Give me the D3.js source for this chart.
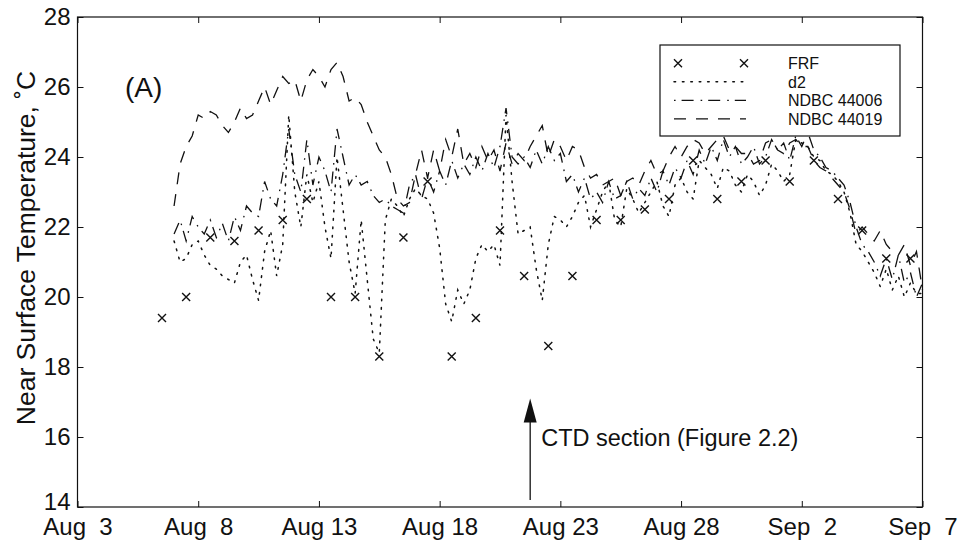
<!DOCTYPE html>
<html>
<head>
<meta charset="utf-8">
<script src="https://cdn.jsdelivr.net/npm/d3@7"></script>
<style>
  html, body { margin: 0; padding: 0; background: #fff; }
  svg { display: block; }
  text { font-family: "Liberation Sans", Arial, Helvetica, sans-serif; fill: #111; }
</style>
</head>
<body>
<svg id="chart" width="966" height="548"></svg>
<script>
// ---- data (day numbers are days after Aug 3, 00:00) ----
const xTickDays = [0, 5, 10, 15, 20, 25, 30, 35];
const xTickLabels = ["Aug  3", "Aug  8", "Aug 13", "Aug 18", "Aug 23", "Aug 28", "Sep  2", "Sep  7"];
const yTicks = [14, 16, 18, 20, 22, 24, 26, 28];

// FRF daily observations (one per day, starting Aug 6.5)
const frfStartDay = 3.5;
const frfValues = [19.4, 20.0, 21.7, 21.6, 21.9, 22.2, 22.8, 20.0, 20.0, 18.3, 21.7, 23.3, 18.3, 19.4,
  21.9, 20.6, 18.6, 20.6, 22.2, 22.2, 22.5, 22.8, 23.9, 22.8, 23.3, 23.9, 23.3, 23.9, 22.8, 21.9, 21.1, 21.1];

// continuous records, sampled every 6 hours starting Aug 7
const seriesStartDay = 4;
const seriesStepDays = 0.25;
const d2Values = [
  21.6, 21.0, 21.1, 21.5, 21.6, 21.2, 20.9, 20.8, 20.6, 20.5, 20.4, 21.0,
  21.2, 20.5, 19.9, 21.3, 21.9, 20.6, 21.5, 25.2, 23.0, 22.0, 23.5, 22.7,
  23.3, 22.0, 21.1, 24.0, 22.5, 21.0, 20.1, 22.2, 20.5, 18.8, 18.4, 22.2,
  22.8, 22.6, 22.3, 22.8, 23.1, 22.9, 22.8, 22.4, 21.4, 19.8, 19.3, 20.2,
  19.8, 20.2, 21.1, 21.5, 21.3, 21.5, 20.9, 25.2, 23.3, 21.8, 21.9, 22.0,
  20.8, 19.9, 21.5, 22.3, 22.2, 22.0, 22.3, 22.7, 22.9, 22.0, 22.5, 23.0,
  23.3, 22.2, 22.0, 23.1, 22.8, 22.4, 22.7, 23.0, 23.3, 22.6, 22.3, 23.2,
  23.4, 23.0, 22.8, 23.9, 23.7, 23.5, 23.1, 23.7, 23.6, 23.2, 23.0, 23.5,
  23.3, 22.9, 23.2, 23.8, 23.6, 23.3, 23.5, 24.5, 24.4, 24.3, 24.0, 23.9,
  23.6, 23.5, 23.3, 23.0, 22.4, 21.5, 21.3, 21.0, 20.7, 20.3, 20.8, 20.2,
  20.6, 20.0, 20.4, 20.1, 20.1];
const ndbc44006Values = [
  21.8, 22.2, 21.6, 22.3, 22.0, 21.8, 22.2, 21.7, 22.1, 21.6, 22.3, 21.9,
  22.6, 22.4, 22.3, 23.3, 22.8, 22.6, 23.5, 24.8, 23.5, 23.0, 24.5, 23.2,
  24.0, 23.6, 23.0, 24.8, 24.0, 23.2, 23.5, 23.2, 23.3, 22.9, 22.7, 22.8,
  22.6, 22.5, 22.4, 23.2, 23.5, 22.8, 23.4, 23.0, 23.6, 23.2, 23.9, 23.4,
  23.8, 23.5, 24.0, 23.6, 24.1, 23.7, 24.3, 25.4, 24.0, 23.8, 24.0, 23.7,
  24.2, 23.8, 24.3, 23.9, 24.1, 23.3, 23.5, 23.0, 23.4, 22.8, 23.0, 22.7,
  23.3, 22.8, 22.9, 23.3, 22.8, 23.1, 22.9, 23.4, 23.0, 23.6, 23.2, 23.7,
  23.4, 23.9, 23.5, 24.2, 23.8, 24.3, 23.9, 24.5, 24.0, 24.3, 23.8, 24.0,
  24.3, 23.8, 24.0, 24.5, 24.2, 24.4, 23.9, 24.6, 24.3, 24.7, 24.2, 24.0,
  23.7, 23.6, 23.4, 23.2, 22.7, 22.0, 21.5, 21.3, 21.0, 20.6, 21.1, 20.5,
  21.2, 20.4, 20.7, 20.0, 20.4];
const ndbc44019Values = [
  22.6, 23.8, 24.3, 24.6, 25.2, 25.1, 25.3, 25.2, 24.9, 24.7, 25.0, 25.4,
  25.1, 25.2, 25.6, 26.0, 25.5, 25.9, 26.3, 26.1, 26.2, 25.6, 26.2, 26.5,
  26.3, 26.0, 26.5, 26.7, 26.3, 25.6, 25.7, 25.5, 25.0, 24.6, 24.2, 24.0,
  23.5, 22.8, 22.6, 22.7, 23.5, 24.2, 23.4, 24.2, 23.6, 24.5, 24.0, 24.8,
  23.8, 24.1, 23.7, 24.3, 23.9, 24.2, 23.6, 24.4, 23.8, 24.1, 23.9, 24.3,
  24.6, 24.9, 24.0, 24.5, 24.3, 23.9, 24.3, 24.2, 23.7, 23.4, 23.5, 23.2,
  23.3, 23.4, 22.9, 23.3, 23.4, 23.2, 23.6, 23.9, 23.5, 23.6, 24.0, 24.3,
  24.0, 24.3, 24.5, 24.4, 24.1, 24.3, 24.5, 24.6, 24.2, 24.3, 24.1, 24.1,
  23.8, 23.9, 24.4, 24.5, 24.2, 24.1, 24.4, 24.5, 24.3, 24.3, 23.9, 23.7,
  23.6, 23.4, 23.2, 23.0, 22.5, 21.8, 22.0, 21.8, 21.6, 21.9, 21.5, 21.3,
  21.2, 21.5, 20.9, 21.3, 20.2];

const legendLabels = ["FRF", "d2", "NDBC 44006", "NDBC 44019"];
const panelLabel = "(A)";
const yAxisLabel = "Near Surface Temperature, \u02DAC";
const ctdLabel = "CTD section (Figure 2.2)";
const ctdArrow = { day: 18.75, fromTemp: 14.2, toTemp: 17.1 };

// ---- drawing ----
const svg = d3.select("#chart");
const W = 966, H = 548;
svg.append("rect").attr("width", W).attr("height", H).attr("fill", "#fff");

const pL = 77.5, pR = 922.5, pT = 17, pB = 507;
const x = d3.scaleLinear().domain([0, 35]).range([pL, pR]);
const y = d3.scaleLinear().domain([14, 28]).range([pB, pT]);

const ink = "#111";
const fontTick = 24;

// axes
const gx = svg.append("g").attr("transform", `translate(0,${pB})`)
  .call(d3.axisBottom(x).tickValues(xTickDays).tickSize(-6).tickPadding(11)
    .tickFormat((d, i) => xTickLabels[i]));
const gxTop = svg.append("g").attr("transform", `translate(0,${pT})`)
  .call(d3.axisTop(x).tickValues(xTickDays).tickSize(-6).tickFormat(""));
const gy = svg.append("g").attr("transform", `translate(${pL},0)`)
  .call(d3.axisLeft(y).tickValues(yTicks).tickSize(-6).tickPadding(7).tickFormat(d3.format("d")));
const gyR = svg.append("g").attr("transform", `translate(${pR},0)`)
  .call(d3.axisRight(y).tickValues(yTicks).tickSize(-6).tickFormat(""));

[gx, gxTop, gy, gyR].forEach(g => {
  g.select(".domain").remove();
  g.selectAll(".tick line").attr("stroke", ink).attr("stroke-width", 1);
  g.selectAll(".tick text").attr("fill", ink).style("font-size", fontTick + "px")
    .style("font-family", '"Liberation Sans", Arial, sans-serif')
    .style("white-space", "pre");
});
// lowest y label sits a little above the corner, as in the original
gy.selectAll(".tick text").filter(d => d === 14).attr("dy", "0.1em");

svg.append("rect").attr("x", pL).attr("y", pT)
  .attr("width", pR - pL).attr("height", pB - pT)
  .attr("fill", "none").attr("stroke", ink).attr("stroke-width", 1.2);

// y label
svg.append("text")
  .attr("transform", `translate(35,248) rotate(-90)`)
  .attr("text-anchor", "middle")
  .style("font-size", "26.5px")
  .text(yAxisLabel);

// series
const toPoints = vals => vals.map((v, i) => ({ d: seriesStartDay + i * seriesStepDays, v }));
const line = d3.line().x(p => x(p.d)).y(p => y(p.v));

const styles = {
  d2: { dash: "1.6,6.8", cap: "round", width: 1.5 },
  n06: { dash: "12,7,1.6,6", width: 1.3 },
  n19: { dash: "12,10", width: 1.3 }
};

const plot = svg.append("g");
plot.append("path").datum(toPoints(d2Values)).attr("d", line)
  .attr("fill", "none").attr("stroke", ink).attr("stroke-width", styles.d2.width)
  .attr("stroke-dasharray", styles.d2.dash).attr("stroke-linecap", styles.d2.cap);
plot.append("path").datum(toPoints(ndbc44006Values)).attr("d", line)
  .attr("fill", "none").attr("stroke", ink).attr("stroke-width", styles.n06.width)
  .attr("stroke-dasharray", styles.n06.dash);
plot.append("path").datum(toPoints(ndbc44019Values)).attr("d", line)
  .attr("fill", "none").attr("stroke", ink).attr("stroke-width", styles.n19.width)
  .attr("stroke-dasharray", styles.n19.dash);

function cross(g, cx, cy, r) {
  g.append("path")
    .attr("d", `M${cx - r},${cy - r}L${cx + r},${cy + r}M${cx - r},${cy + r}L${cx + r},${cy - r}`)
    .attr("stroke", ink).attr("stroke-width", 1.4).attr("fill", "none");
}
const frfG = plot.append("g");
frfValues.forEach((v, i) => cross(frfG, x(frfStartDay + i), y(v), 4));

// CTD annotation
const ax = x(ctdArrow.day);
const tipY = y(ctdArrow.toTemp);
svg.append("line").attr("x1", ax).attr("x2", ax)
  .attr("y1", y(ctdArrow.fromTemp)).attr("y2", tipY + 18)
  .attr("stroke", ink).attr("stroke-width", 1.3);
svg.append("path")
  .attr("d", `M${ax},${tipY}L${ax - 6.5},${tipY + 24}L${ax + 6.5},${tipY + 24}Z`)
  .attr("fill", ink);
svg.append("text").attr("x", ax + 11).attr("y", tipY + 47)
  .style("font-size", "23.5px").text(ctdLabel);

// panel label
svg.append("text").attr("x", 125).attr("y", 97).style("font-size", "28px").text(panelLabel);

// legend
const lg = svg.append("g");
const lgX = 660, lgY = 45, lgW = 240, lgH = 91;
lg.append("rect").attr("x", lgX).attr("y", lgY).attr("width", lgW).attr("height", lgH)
  .attr("fill", "#fff").attr("stroke", ink).attr("stroke-width", 1.2);
const rowY = [63.3, 81.8, 100.3, 118.8];
const sx0 = 674, sx1 = 746, tx = 788;
legendLabels.forEach((lab, i) => {
  lg.append("text").attr("x", tx).attr("y", rowY[i]).attr("dy", "0.36em")
    .style("font-size", "16px").text(lab);
});
cross(lg, 678, rowY[0], 4);
cross(lg, 744, rowY[0], 4);
lg.append("line").attr("x1", sx0).attr("x2", sx1).attr("y1", rowY[1]).attr("y2", rowY[1])
  .attr("stroke", ink).attr("stroke-width", styles.d2.width)
  .attr("stroke-dasharray", styles.d2.dash).attr("stroke-linecap", "round");
lg.append("line").attr("x1", sx0).attr("x2", sx1).attr("y1", rowY[2]).attr("y2", rowY[2])
  .attr("stroke", ink).attr("stroke-width", styles.n06.width)
  .attr("stroke-dasharray", "1.6,6,12,7");
lg.append("line").attr("x1", sx0).attr("x2", sx1).attr("y1", rowY[3]).attr("y2", rowY[3])
  .attr("stroke", ink).attr("stroke-width", styles.n19.width)
  .attr("stroke-dasharray", styles.n19.dash);
</script>
</body>
</html>
